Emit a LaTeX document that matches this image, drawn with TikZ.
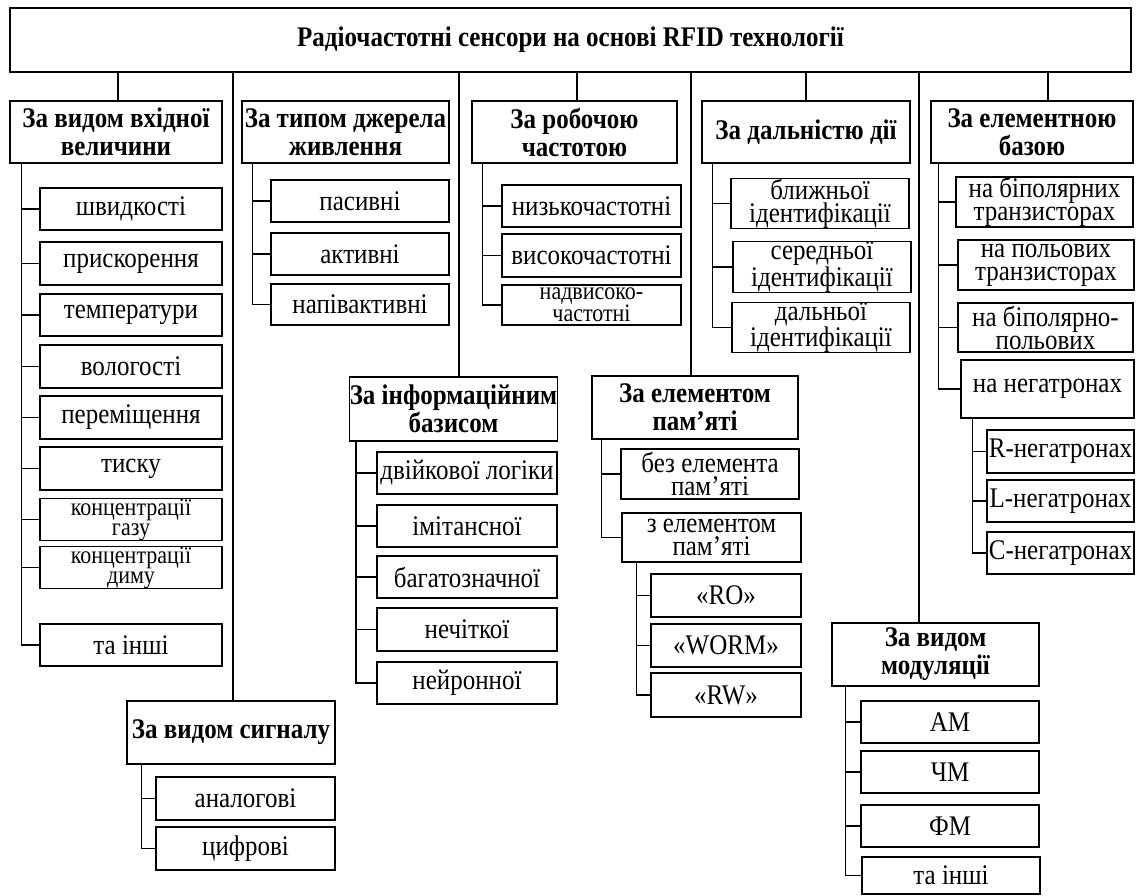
\documentclass[tikz,border=0pt]{standalone}
\usepackage{fontspec}
\setmainfont[FakeStretch=0.88]{Liberation Serif}
\tikzset{
  box/.style={draw, line width=1.2pt, inner sep=0pt, align=center, font=\fontsize{28.4}{23}\selectfont},
  tight/.style={box, font=\fontsize{25}{20}\selectfont},
  head/.style={box, font=\fontsize{28.4}{28}\selectfont\bfseries},
  con/.style={line width=1.6pt}
}
\newcommand\bx[7][box]{\node[#1, minimum width={#5-#3}, minimum height={#6-#4}] (#2) at ({(#3+#5)/2},{(#4+#6)/2}) {#7};}
\newcommand\br[3]{\draw[con] ([xshift=#3]#1.south west) |- (#2.west);}
\newcommand\up[3]{\draw[con] ([xshift=#3]#1.north) -- ([xshift=#3]#1.north |- #2.south);}
\begin{document}
\begin{tikzpicture}[x=1pt,y=-1pt]
\useasboundingbox (0,0) rectangle (1137,896);
% top
\bx[head]{top}{10}{8}{1131}{72}{Радіочастотні сенсори на основі RFID технології}
% level 1
\bx[head]{b1}{10}{101}{222}{163}{За видом вхідної\\величини}
\bx[head]{b2}{242}{101}{449}{163}{За типом джерела\\живлення}
\bx[head]{b3}{472}{101}{677}{163}{За робочою\\частотою}
\bx[head]{b4}{702}{101}{910}{163}{За дальністю дії}
\bx[head]{b5}{931}{101}{1133}{163}{За елементною\\базою}
\bx[head]{sig}{127}{701}{335}{764}{За видом сигналу}
\bx[head]{inf}{350}{377}{557}{441}{За інформаційним\\базисом}
\bx[head]{mem}{592}{376}{798}{439}{За елементом\\пам’яті}
\bx[head]{mod}{832}{623}{1039}{686}{За видом\\модуляції}
% column 1
\bx{c11}{40}{188}{222}{230}{швидкості}
\bx{c12}{40}{242}{222}{285}{прискорення}
\bx{c13}{40}{294}{222}{336}{температури}
\bx{c14}{40}{345}{222}{388}{вологості}
\bx{c15}{40}{396}{222}{439}{переміщення}
\bx{c16}{40}{447}{222}{490}{тиску}
\bx[tight]{c17}{40}{499}{222}{540}{концентрації\\газу}
\bx[tight]{c18}{40}{547}{222}{588}{концентрації\\диму}
\bx{c19}{40}{624}{222}{666}{та інші}
% column 2
\bx{c21}{271}{180}{449}{222}{пасивні}
\bx{c22}{271}{233}{449}{275}{активні}
\bx{c23}{271}{284}{449}{325}{напівактивні}
% column 3
\bx{c31}{502}{185}{681}{227}{низькочастотні}
\bx{c32}{502}{234}{681}{277}{високочастотні}
\bx[tight]{c33}{502}{285}{681}{325}{надвисоко-\\частотні}
% column 4
\bx{c41}{731}{179}{909}{228}{ближньої\\ідентифікації}
\bx{c42}{733}{242}{911}{292}{середньої\\ідентифікації}
\bx{c43}{732}{303}{910}{352}{дальньої\\ідентифікації}
% column 5
\bx{c51}{956}{177}{1133}{227}{на біполярних\\транзисторах}
\bx{c52}{958}{240}{1134}{290}{на польових\\транзисторах}
\bx{c53}{958}{303}{1133}{352}{на біполярно-\\польових}
\bx{c54}{961}{360}{1134}{418}{на негатронах}
\bx{c55}{987}{430}{1134}{473}{R-негатронах}
\bx{c56}{987}{480}{1134}{522}{L-негатронах}
\bx{c57}{987}{532}{1134}{574}{C-негатронах}
% signal
\bx{s1}{156}{777}{335}{820}{аналогові}
\bx{s2}{156}{827}{335}{870}{цифрові}
% info basis
\bx{i1}{377}{452}{557}{494}{двійкової логіки}
\bx{i2}{377}{505}{557}{547}{імітансної}
\bx{i3}{377}{556}{557}{598}{багатозначної}
\bx{i4}{377}{608}{557}{651}{нечіткої}
\bx{i5}{377}{662}{557}{704}{нейронної}
% memory
\bx{m1}{621}{449}{799}{499}{без елемента\\пам’яті}
\bx{m2}{622}{513}{801}{562}{з елементом\\пам’яті}
\bx{m3}{651}{574}{801}{617}{«RO»}
\bx{m4}{651}{624}{801}{667}{«WORM»}
\bx{m5}{651}{673}{801}{717}{«RW»}
% modulation
\bx{d1}{861}{701}{1039}{743}{АМ}
\bx{d2}{861}{751}{1039}{793}{ЧМ}
\bx{d3}{861}{805}{1039}{847}{ФМ}
\bx{d4}{862}{857}{1040}{894}{та інші}
% connectors from top
\up{b1}{top}{2pt}
\up{b3}{top}{2.5pt}
\up{b4}{top}{0pt}
\up{b5}{top}{16pt}
\up{sig}{top}{2pt}
\up{inf}{top}{5.5pt}
\up{mem}{top}{-4pt}
\up{mod}{top}{-16.5pt}
% branches
\foreach \c in {c11,c12,c13,c14,c15,c16,c17,c18,c19} {\br{b1}{\c}{12pt}}
\foreach \c in {c21,c22,c23} {\br{b2}{\c}{11pt}}
\foreach \c in {c31,c32,c33} {\br{b3}{\c}{11pt}}
\foreach \c in {c41,c42,c43} {\br{b4}{\c}{11pt}}
\foreach \c in {c51,c52,c53,c54} {\br{b5}{\c}{8pt}}
\foreach \c in {c55,c56,c57} {\br{c54}{\c}{12pt}}
\foreach \c in {s1,s2} {\br{sig}{\c}{15pt}}
\foreach \c in {i1,i2,i3,i4,i5} {\br{inf}{\c}{7pt}}
\foreach \c in {m1,m2} {\br{mem}{\c}{10pt}}
\foreach \c in {m3,m4,m5} {\br{m2}{\c}{15pt}}
\foreach \c in {d1,d2,d3,d4} {\br{mod}{\c}{14pt}}
\end{tikzpicture}
\end{document}
